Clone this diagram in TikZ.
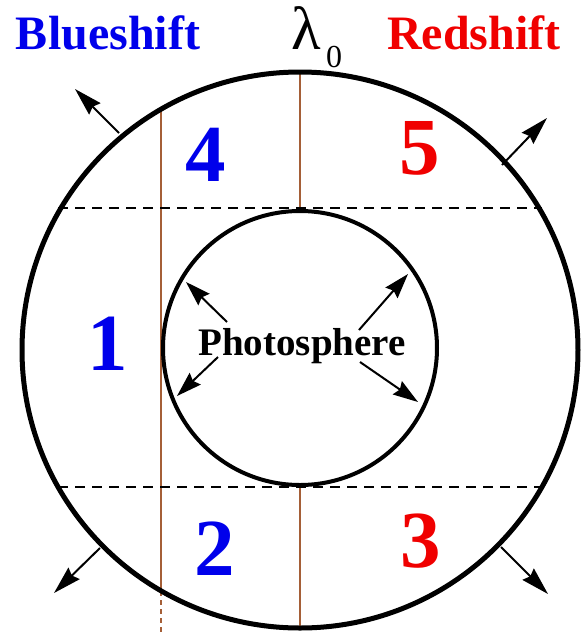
\documentclass[tikz,border=0pt]{standalone}
\usepackage{fontspec}
\setmainfont{Liberation Serif}
\usetikzlibrary{arrows.meta}
\definecolor{bluetxt}{RGB}{0,0,235}
\definecolor{redtxt}{RGB}{240,0,0}
\definecolor{brownln}{RGB}{165,95,55}
\begin{document}
\begin{tikzpicture}[x=1pt,y=-1pt,
  ring/.style={circle,draw,inner sep=0pt,outer sep=0pt},
  sepline/.style={dash pattern=on 10pt off 7pt, line width=2.2pt},
  chord/.style={draw=brownln, line width=1.5pt},
  chorddash/.style={draw=brownln, line width=1.5pt, dash pattern=on 5pt off 4pt},
  outarrow/.style={line width=2pt,-{Stealth[length=28pt,width=16pt,inset=3pt]}},
  inarrow/.style={line width=2pt,-{Stealth[length=25pt,width=16pt,inset=3pt]}},
  lbl/.style={font=\fontsize{48}{48}\bfseries\selectfont, anchor=base},
  num/.style={font=\fontsize{81}{81}\bfseries\selectfont, inner sep=0pt}
]
\useasboundingbox (0,0) rectangle (585,633);
\fill[white] (0,0) rectangle (585,633);

% coordinates
\coordinate (ltop) at (161,109);
\coordinate (lbot) at (161,591);
\coordinate (lend) at (161,633);
\coordinate (ctop) at (300,72);
\coordinate (cin1) at (300,211);
\coordinate (cin2) at (300,485);
\coordinate (cbot) at (300,628);
\coordinate (d1l) at (58,208);
\coordinate (d1r) at (542,208);
\coordinate (d2l) at (58,487);
\coordinate (d2r) at (542,487);

% brown lines
\draw[chord] (ltop) -- (lbot);
\draw[chorddash] (lbot) -- (lend);
\draw[chord] (ctop) -- (cin1);
\draw[chord] (cin2) -- (cbot);

% dashed separators
\draw[sepline] (d1l) -- (d1r);
\draw[sepline] (d2l) -- (d2r);

% circles
\node[ring, line width=5pt, minimum size=556pt] (outer) at (300,350) {};
\node[ring, line width=4pt, minimum size=274pt] (inner) at (300,348) {};

% outer arrows
\coordinate (o1a) at (119,133); \coordinate (o1b) at (75,89);
\coordinate (o2a) at (502,165); \coordinate (o2b) at (547,118);
\coordinate (o3a) at (501,547); \coordinate (o3b) at (548,594);
\coordinate (o4a) at (100,548); \coordinate (o4b) at (54,593);
\draw[outarrow] (o1a) -- (o1b);
\draw[outarrow] (o2a) -- (o2b);
\draw[outarrow] (o3a) -- (o3b);
\draw[outarrow] (o4a) -- (o4b);

% inner arrows
\coordinate (i1a) at (227,322); \coordinate (i1b) at (186,282);
\coordinate (i2a) at (218,357); \coordinate (i2b) at (177,396);
\coordinate (i3a) at (359,330); \coordinate (i3b) at (408,274);
\coordinate (i4a) at (360,362); \coordinate (i4b) at (418,402);
\draw[inarrow] (i1a) -- (i1b);
\draw[inarrow] (i2a) -- (i2b);
\draw[inarrow] (i3a) -- (i3b);
\draw[inarrow] (i4a) -- (i4b);

% texts
\node[lbl, text=bluetxt] (blue) at (108,49) {Blueshift};
\node[lbl, text=redtxt] (red) at (474,49) {Redshift};
\node[anchor=base, font=\fontsize{61}{61}\selectfont, inner sep=0pt] (lam) at (306,49) {λ};
\node[anchor=base, font=\fontsize{32}{32}\selectfont, inner sep=0pt] (sub) at (334,67) {0};
\node[anchor=base, font=\fontsize{39}{39}\bfseries\selectfont] (photo) at (302,355) {Photosphere};

\node[num, text=bluetxt] (n4) at (206,155) {4};
\node[num, text=redtxt] (n5) at (420,148) {5};
\node[num, text=bluetxt] (n1) at (108,344) {1};
\node[num, text=bluetxt] (n2) at (215,549) {2};
\node[num, text=redtxt] (n3) at (421,541) {3};
\end{tikzpicture}
\end{document}
